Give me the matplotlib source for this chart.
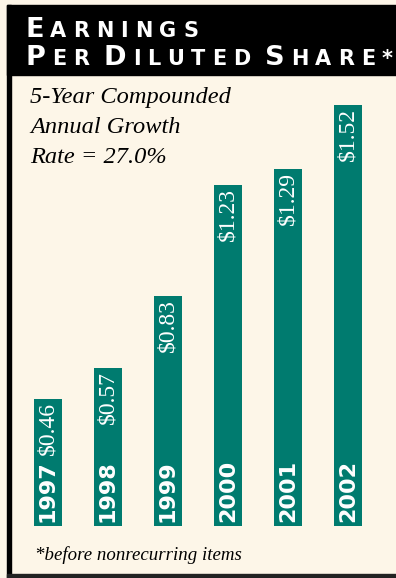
import matplotlib.pyplot as plt
from matplotlib.patches import Rectangle

# Data
years = ['1997', '1998', '1999', '2000', '2001', '2002']
eps = [0.46, 0.57, 0.83, 1.23, 1.29, 1.52]
eps_labels = ['$0.46', '$0.57', '$0.83', '$1.23', '$1.29', '$1.52']
subtitle = ['5-Year Compounded', 'Annual Growth', 'Rate = 27.0%']
footnote = '*before nonrecurring items'

W, H = 396, 578
cream = '#fdf6e8'
teal = '#007b6f'

fig = plt.figure(figsize=(W / 100, H / 100), dpi=100, facecolor=cream)
renderer = fig.canvas.get_renderer()


def px(x, y_top):
    # pixel coords (from top-left) -> figure fraction
    return x / W, 1 - y_top / H


# frame: header band, left rule, bottom rule
fig.patches.append(Rectangle(px(7, 75), (W - 7) / W, 70 / H, transform=fig.transFigure,
                             color='black', zorder=0))
fig.patches.append(Rectangle(px(7, 578), 4 / W, 573 / H, transform=fig.transFigure,
                             color='black', zorder=0))
fig.patches.append(Rectangle(px(7, 578), (W - 7) / W, 4 / H, transform=fig.transFigure,
                             color='#222222', zorder=0))


def small_caps(words, x0, x1, baseline, big=19.5, small=15):
    # small caps, letters spread so the line spans x0..x1
    items = []
    for w in words:
        for ci, ch in enumerate(w):
            size = big if (ci == 0 and ch.isalpha()) else small
            items.append((ch.upper(), size, ci))
    widths = []
    for ch, size, ci in items:
        t = fig.text(0, 0, ch, fontsize=size, fontweight='heavy', family='DejaVu Sans')
        widths.append(t.get_window_extent(renderer).width)
        t.remove()
    space = 8
    natural = sum(widths) + space * (len(words) - 1)
    track = (x1 - x0 - natural) / (len(items) - 1)
    x = x0
    for k, (ch, size, ci) in enumerate(items):
        if k > 0 and ci == 0:
            x += space
        fig.text(*px(x, baseline), ch, fontsize=size, fontweight='heavy',
                 family='DejaVu Sans', color='white', va='baseline', ha='left')
        x += widths[k] + track


small_caps(['Earnings'], 25, 198, 37)
small_caps(['Per', 'Diluted', 'Share*'], 25, 393, 65)

for line, base in zip(subtitle, [103, 133, 163]):
    fig.text(*px(30, base), line, fontsize=17.6, style='italic',
             family='Liberation Serif', va='baseline', ha='left')

fig.text(*px(35, 560), footnote, fontsize=13.6, style='italic',
         family='Liberation Serif', va='baseline', ha='left')

# bar chart area: zero line at y=526 px, 277 px per dollar
ax = fig.add_axes([18 / W, (H - 526) / H, 360 / W, 446 / H])
ax.set_facecolor('none')
ax.set_xlim(-0.5, 5.5)
ax.set_ylim(0, 446 / 277)
ax.axis('off')

xs = range(len(years))
ax.bar(xs, eps, width=28 / 60, color=teal)

for x, v, yr, lab in zip(xs, eps, years, eps_labels):
    ax.annotate(yr, (x, 0), xytext=(0, 4), textcoords='offset pixels',
                rotation=90, ha='center', va='bottom', color='white',
                fontsize=16, fontweight='bold', family='DejaVu Sans')
    ax.annotate(lab, (x, v), xytext=(0, -3), textcoords='offset pixels',
                rotation=90, ha='center', va='top', color='white',
                fontsize=17, family='Liberation Serif')

fig.savefig('out.png', dpi=100, facecolor=cream)
